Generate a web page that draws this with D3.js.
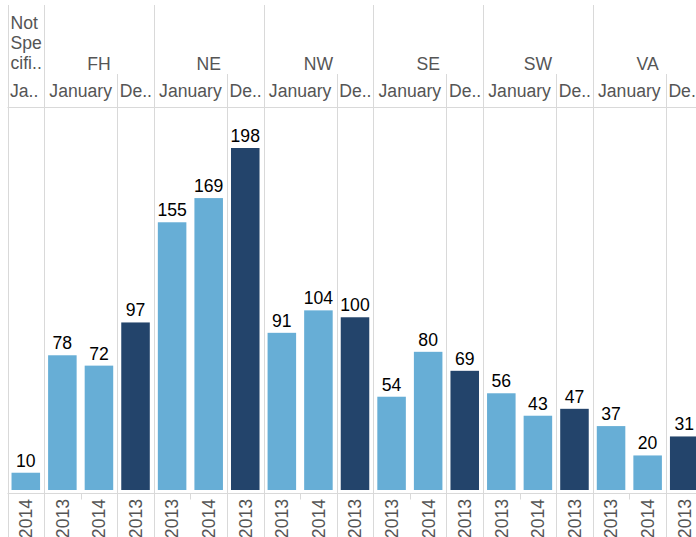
<!DOCTYPE html>
<html>
<head>
<meta charset="utf-8">
<script src="https://cdn.jsdelivr.net/npm/d3@7/dist/d3.min.js"></script>
<style>
  html, body { margin: 0; padding: 0; background: #fff; }
  svg { display: block; font-family: "Liberation Sans", Arial, sans-serif; }
</style>
</head>
<body>
<svg id="chart" width="696" height="537"></svg>
<script>
// ---- data ----
const regions = ["Not Specified", "FH", "NE", "NW", "SE", "SW", "VA"];
const regionLabelLines = [["Not", "Spe", "cifi.."], ["FH"], ["NE"], ["NW"], ["SE"], ["SW"], ["VA"]];
const colRegion = ["Not Specified", "FH", "FH", "FH", "NE", "NE", "NE", "NW", "NW", "NW",
                   "SE", "SE", "SE", "SW", "SW", "SW", "VA", "VA", "VA"];
const colMonth = ["January", "January", "January", "December", "January", "January", "December",
                  "January", "January", "December", "January", "January", "December",
                  "January", "January", "December", "January", "January", "December"];
const colYear = ["2014", "2013", "2014", "2013", "2013", "2014", "2013", "2013", "2014", "2013",
                 "2013", "2014", "2013", "2013", "2014", "2013", "2013", "2014", "2013"];
const values = [10, 78, 72, 97, 155, 169, 198, 91, 104, 100, 54, 80, 69, 56, 43, 47, 37, 20, 31];

const data = values.map((v, i) => ({ i, key: String(i), region: colRegion[i], month: colMonth[i], year: colYear[i], value: v }));

// ---- layout ----
const svg = d3.select("#chart");
const W = 696, H = 537;
const left = 7.5, right = 702.5;
const plotTop = 107.5, baseY = 490, axisY = 493.5;
const gridColor = "#d9d9d9";
const textGrey = "#555555";
const light = "#67aed6", dark = "#23446b";
const fs = 17.6;

const x = d3.scaleBand().domain(data.map(d => d.key)).range([left, right]).paddingInner(0.22).paddingOuter(0.11);
const step = x.step();
const colLeft = i => left + i * step;
const y = d3.scaleLinear().domain([0, 220]).range([baseY, baseY - 380]);

const regionSpans = regions.map(r => {
  const idx = data.filter(d => d.region === r).map(d => d.i);
  return { region: r, start: d3.min(idx), end: d3.max(idx) + 1 };
});
const monthSpans = [];
data.forEach(d => {
  const last = monthSpans[monthSpans.length - 1];
  if (last && last.region === d.region && last.month === d.month) last.end = d.i + 1;
  else monthSpans.push({ region: d.region, month: d.month, start: d.i, end: d.i + 1 });
});

const g = svg.append("g");

g.selectAll("line.reg").data(regionSpans).enter().append("line")
  .attr("x1", d => Math.round(colLeft(d.start)) + 0.5).attr("x2", d => Math.round(colLeft(d.start)) + 0.5)
  .attr("y1", 5).attr("y2", H)
  .attr("stroke", gridColor).attr("stroke-width", 1);

g.selectAll("line.mon").data(monthSpans.filter(m => regionSpans.find(r => r.region === m.region).start !== m.start)).enter().append("line")
  .attr("x1", d => Math.round(colLeft(d.start)) + 0.5).attr("x2", d => Math.round(colLeft(d.start)) + 0.5)
  .attr("y1", 74).attr("y2", H)
  .attr("stroke", gridColor).attr("stroke-width", 1);

g.selectAll("line.yr").data(data.filter(d => monthSpans.find(m => m.start === d.i) === undefined)).enter().append("line")
  .attr("x1", d => Math.round(colLeft(d.i)) + 0.5).attr("x2", d => Math.round(colLeft(d.i)) + 0.5)
  .attr("y1", axisY).attr("y2", axisY + 6)
  .attr("stroke", gridColor).attr("stroke-width", 1);

g.append("line").attr("x1", left).attr("x2", W).attr("y1", plotTop).attr("y2", plotTop).attr("stroke", gridColor);
g.append("line").attr("x1", left).attr("x2", W).attr("y1", axisY).attr("y2", axisY).attr("stroke", gridColor);

regionSpans.forEach((r, ri) => {
  const lines = regionLabelLines[ri];
  if (lines.length > 1) {
    lines.forEach((t, li) => {
      g.append("text").attr("x", colLeft(r.start) + 3).attr("y", 29 + li * 20)
        .attr("font-size", fs).attr("fill", textGrey).text(t);
    });
  } else {
    g.append("text").attr("x", (colLeft(r.start) + colLeft(r.end)) / 2).attr("y", 69.5)
      .attr("text-anchor", "middle").attr("font-size", fs).attr("fill", textGrey).text(lines[0]);
  }
});

monthSpans.forEach(m => {
  const span = m.end - m.start;
  if (span > 1) {
    g.append("text").attr("x", (colLeft(m.start) + colLeft(m.end)) / 2).attr("y", 97)
      .attr("text-anchor", "middle").attr("font-size", fs).attr("fill", textGrey).text(m.month);
  } else {
    const x0 = colLeft(m.start) + 2.5;
    const label = (x0 + 32 > W) ? m.month.slice(0, 2) + "." : m.month.slice(0, 2) + "..";
    g.append("text").attr("x", x0).attr("y", 97)
      .attr("font-size", fs).attr("fill", textGrey).text(label);
  }
});

g.selectAll("rect.bar").data(data).enter().append("rect")
  .attr("x", d => x(d.key)).attr("width", x.bandwidth())
  .attr("y", d => y(d.value)).attr("height", d => baseY - y(d.value))
  .attr("fill", d => d.month === "December" ? dark : light);

g.selectAll("text.val").data(data).enter().append("text")
  .attr("x", d => x(d.key) + x.bandwidth() / 2).attr("y", d => y(d.value) - 6)
  .attr("text-anchor", "middle").attr("font-size", fs).attr("fill", "#000").text(d => d.value);

g.selectAll("text.yr").data(data).enter().append("text")
  .attr("transform", d => `translate(${x(d.key) + x.bandwidth() / 2},499) rotate(-90)`)
  .attr("text-anchor", "end").attr("dy", "0.36em")
  .attr("font-size", fs).attr("fill", textGrey).text(d => d.year);
</script>
</body>
</html>
